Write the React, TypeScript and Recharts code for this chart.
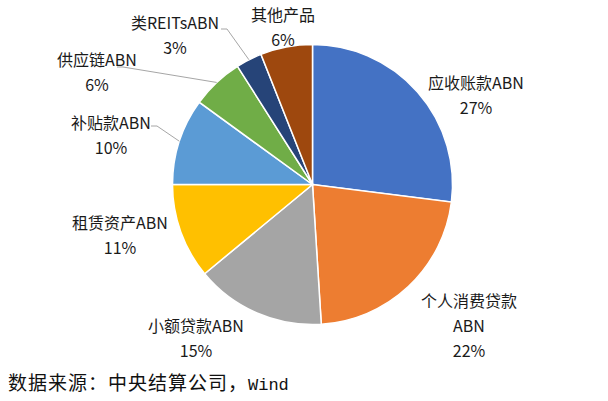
import React from 'react';
import { PieChart, Pie, Cell } from 'recharts';

// Asset-backed notes by underlying type (%)
const categories = [
  '应收账款ABN',
  '个人消费贷款ABN',
  '小额贷款ABN',
  '租赁资产ABN',
  '补贴款ABN',
  '供应链ABN',
  '类REITsABN',
  '其他产品',
];
const shares = [27, 22, 15, 11, 10, 6, 3, 6];
const colors = ['#4472C4', '#ED7D31', '#A5A5A5', '#FFC000', '#5B9BD5', '#70AD47', '#264478', '#9E480E'];

const data = categories.map((name, i) => ({ name, value: shares[i] }));

// label placement relative to pie centre (first text line), plus leader start offsets
const labelPos: [number, number][] = [
  [163.5, -102.5],
  [156.5, 115.5],
  [-116.5, 140.5],
  [-192.5, 37.5],
  [-201.5, -62.5],
  [-215.5, -125.5],
  [-137.5, -162.5],
  [-29.5, -170.5],
];
const leaderFrom: ([number, number] | null)[] = [null, null, null, null, [40, 4], [20, 8], [46, 7], null];

const RAD = Math.PI / 180;
const LINE_H = 25;

function splitName(name: string) {
  const cjk = (name.match(/[\u4e00-\u9fff]/g) || []).length;
  if (cjk >= 6 && name.endsWith('ABN')) return [name.slice(0, -3), 'ABN'];
  return [name];
}

const renderLabel = (props: any) => {
  const { cx, cy, midAngle, outerRadius, index, name, value } = props;
  const [dx, dy] = labelPos[index];
  const x = cx + dx;
  const y = cy + dy;
  const lines = [...splitName(name), `${value}%`];
  const lead = leaderFrom[index];
  let leader = null;
  if (lead) {
    const sx = x + lead[0];
    const sy = y + lead[1];
    const ex = cx + outerRadius * Math.cos(-midAngle * RAD);
    const ey = cy + outerRadius * Math.sin(-midAngle * RAD);
    leader = (
      <polyline
        points={`${sx},${sy} ${sx + 6},${sy} ${ex},${ey}`}
        fill="none"
        stroke="#A6A6A6"
        strokeWidth={1}
      />
    );
  }
  return (
    <g>
      {leader}
      {lines.map((t, k) => (
        <text
          key={k}
          x={x}
          y={y + k * LINE_H}
          textAnchor="middle"
          dominantBaseline="central"
          fill="#1a1a1a"
          fontSize={16}
          fontFamily='"Noto Sans CJK SC", sans-serif'
        >
          {t}
        </text>
      ))}
    </g>
  );
};

export default function App() {
  return (
    <div style={{ position: 'absolute', left: 0, top: 0, width: 608, height: 401, background: '#fff' }}>
      <PieChart width={608} height={401} margin={{ top: 0, right: 0, bottom: 0, left: 0 }}>
        <Pie
          data={data}
          dataKey="value"
          nameKey="name"
          cx={312.5}
          cy={184.5}
          outerRadius={140}
          startAngle={90}
          endAngle={-270}
          stroke="#ffffff"
          strokeWidth={1.5}
          label={renderLabel}
          labelLine={false}
          isAnimationActive={false}
        >
          {data.map((d, i) => (
            <Cell key={d.name} fill={colors[i]} />
          ))}
        </Pie>
      </PieChart>
      <div
        style={{
          position: 'absolute',
          left: 8,
          top: 369,
          fontFamily: '"Noto Sans CJK SC", sans-serif',
          fontSize: 19,
          letterSpacing: 1,
          color: '#111',
          lineHeight: '26px',
          whiteSpace: 'nowrap',
        }}
      >
        数据来源：中央结算公司，
        <span style={{ fontFamily: '"Liberation Mono", monospace', fontSize: 17, letterSpacing: 0 }}>Wind</span>
      </div>
    </div>
  );
}
